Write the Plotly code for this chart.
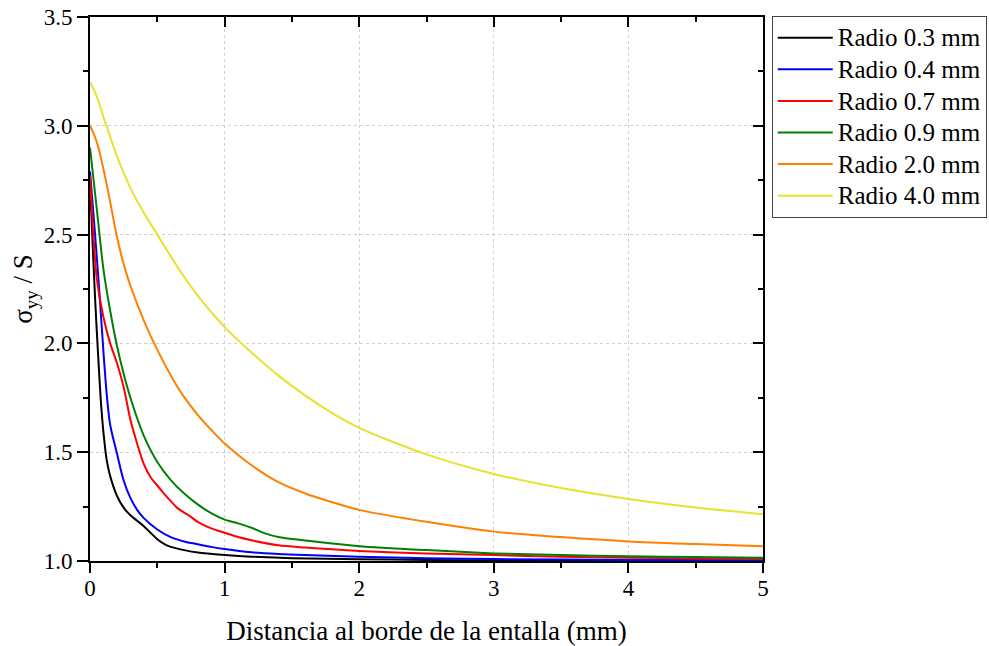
import plotly.graph_objects as go

FONT = "Liberation Serif"

labels = ["Radio 0.3 mm", "Radio 0.4 mm", "Radio 0.7 mm", "Radio 0.9 mm", "Radio 2.0 mm", "Radio 4.0 mm"]
colors = ["#000000", "#0000FF", "#FF0000", "#008000", "#FF8000", "#E6E22E"]

x_r03 = [0, 0.02, 0.04, 0.06, 0.08, 0.1, 0.125, 0.15, 0.2, 0.25, 0.3, 0.35, 0.4, 0.45, 0.5, 0.55, 0.6, 0.7, 0.8, 1.0, 1.2, 1.5, 2.0, 2.5, 3.0, 4.0, 5.0]
y_r03 = [2.75, 2.45, 2.18, 1.95, 1.74, 1.59, 1.46, 1.39, 1.30, 1.245, 1.21, 1.185, 1.16, 1.13, 1.10, 1.079, 1.065, 1.05, 1.039, 1.028, 1.02, 1.013, 1.008, 1.005, 1.003, 1.002, 1.001]

x_r04 = [0, 0.025, 0.05, 0.075, 0.1, 0.125, 0.15, 0.2, 0.25, 0.3, 0.35, 0.4, 0.5, 0.6, 0.7, 0.8, 0.9, 1.0, 1.2, 1.4, 1.6, 2.0, 2.5, 3.0, 4.0, 5.0]
y_r04 = [2.79, 2.60, 2.40, 2.19, 1.96, 1.76, 1.625, 1.495, 1.37, 1.29, 1.235, 1.197, 1.145, 1.11, 1.09, 1.077, 1.065, 1.055, 1.04, 1.032, 1.027, 1.02, 1.013, 1.009, 1.005, 1.003]

x_r07 = [0, 0.025, 0.05, 0.1, 0.15, 0.2, 0.25, 0.3, 0.35, 0.4, 0.45, 0.5, 0.55, 0.6, 0.65, 0.7, 0.75, 0.8, 0.9, 1.0, 1.1, 1.2, 1.4, 1.6, 1.8, 2.0, 2.5, 3.0, 3.5, 4.0, 4.5, 5.0]
y_r07 = [2.77, 2.50, 2.30, 2.12, 2.00, 1.91, 1.80, 1.65, 1.54, 1.445, 1.385, 1.347, 1.31, 1.275, 1.243, 1.222, 1.203, 1.18, 1.15, 1.13, 1.11, 1.095, 1.072, 1.062, 1.054, 1.046, 1.035, 1.027, 1.02, 1.015, 1.012, 1.01]

x_r09 = [0, 0.025, 0.05, 0.1, 0.15, 0.2, 0.25, 0.3, 0.4, 0.5, 0.6, 0.7, 0.8, 0.9, 1.0, 1.1, 1.2, 1.3, 1.4, 1.6, 1.8, 2.0, 2.5, 3.0, 3.5, 4.0, 4.5, 5.0]
y_r09 = [2.90, 2.76, 2.62, 2.34, 2.15, 1.99, 1.86, 1.75, 1.575, 1.455, 1.372, 1.31, 1.26, 1.22, 1.19, 1.173, 1.153, 1.127, 1.11, 1.094, 1.08, 1.068, 1.05, 1.035, 1.027, 1.022, 1.018, 1.015]

x_r20 = [0, 0.03, 0.06, 0.1, 0.15, 0.2, 0.25, 0.3, 0.4, 0.5, 0.6, 0.7, 0.8, 0.9, 1.0, 1.2, 1.4, 1.6, 1.8, 2.0, 2.5, 3.0, 3.5, 4.0, 4.5, 5.0]
y_r20 = [3.00, 2.96, 2.905, 2.80, 2.65, 2.49, 2.365, 2.265, 2.105, 1.97, 1.853, 1.753, 1.672, 1.603, 1.54, 1.44, 1.362, 1.31, 1.27, 1.235, 1.18, 1.135, 1.11, 1.09, 1.078, 1.068]

x_r40 = [0, 0.05, 0.1, 0.15, 0.2, 0.3, 0.4, 0.5, 0.6, 0.7, 0.8, 0.9, 1.0, 1.2, 1.4, 1.6, 1.8, 2.0, 2.5, 3.0, 3.5, 4.0, 4.5, 5.0]
y_r40 = [3.20, 3.135, 3.04, 2.95, 2.86, 2.715, 2.60, 2.50, 2.40, 2.305, 2.22, 2.145, 2.075, 1.958, 1.852, 1.76, 1.68, 1.612, 1.49, 1.40, 1.335, 1.285, 1.246, 1.215]

series_x = [x_r03, x_r04, x_r07, x_r09, x_r20, x_r40]
series_y = [y_r03, y_r04, y_r07, y_r09, y_r20, y_r40]

fig = go.Figure()
for i, (xs, ys) in enumerate(zip(series_x, series_y)):
    fig.add_trace(go.Scatter(
        x=xs, y=ys, mode="lines",
        name='<span style="font-size:25px">%s</span>' % labels[i],
        line=dict(color=colors[i], width=2, shape="spline", smoothing=0.8),
    ))

# dummy trace for the mirrored top/right axes with inward ticks
fig.add_trace(go.Scatter(x=[None], y=[None], xaxis="x2", yaxis="y2",
                         showlegend=False, hoverinfo="skip"))

tickfont = dict(family=FONT, size=23, color="black")

fig.update_layout(
    width=989, height=646,
    margin=dict(l=90, r=226, t=17, b=85, autoexpand=False),
    paper_bgcolor="white", plot_bgcolor="white",
    font=dict(family=FONT, color="black"),
    xaxis=dict(
        range=[0, 5], dtick=1, tick0=0, showline=True, linewidth=2, linecolor="black",
        ticks="outside", ticklen=10, tickwidth=2, tickcolor="black",
        tickfont=tickfont, zeroline=False, ticklabelstandoff=-5,
        showgrid=True, gridcolor="#cfcfcf", griddash="dot", gridwidth=1,
        minor=dict(dtick=0.5, ticks="outside", ticklen=5, tickwidth=2, tickcolor="black", showgrid=False),
        title=dict(text="Distancia al borde de la entalla (mm)",
                   font=dict(family=FONT, size=27, color="black"), standoff=22),
    ),
    yaxis=dict(
        range=[1.0, 3.5], dtick=0.5, tick0=1.0, tickformat=".1f",
        showline=True, linewidth=2, linecolor="black",
        ticks="outside", ticklen=11, tickwidth=2, tickcolor="black",
        tickfont=tickfont, zeroline=False, ticklabelstandoff=0,
        showgrid=True, gridcolor="#cfcfcf", griddash="dot", gridwidth=1,
        minor=dict(dtick=0.25, ticks="outside", ticklen=5, tickwidth=2, tickcolor="black", showgrid=False),
        title=dict(text="σ<sub>yy</sub> / S",
                   font=dict(family=FONT, size=27, color="black"), standoff=3),
    ),
    xaxis2=dict(
        overlaying="x", side="top", range=[0, 5], dtick=1, tick0=0,
        showline=True, linewidth=2, linecolor="black",
        ticks="inside", ticklen=10, tickwidth=2, tickcolor="black",
        showticklabels=False, showgrid=False, zeroline=False,
        minor=dict(dtick=0.5, ticks="inside", ticklen=5, tickwidth=2, tickcolor="black", showgrid=False),
    ),
    yaxis2=dict(
        overlaying="y", side="right", range=[1.0, 3.5], dtick=0.5, tick0=1.0,
        showline=True, linewidth=2, linecolor="black",
        ticks="inside", ticklen=10, tickwidth=2, tickcolor="black",
        showticklabels=False, showgrid=False, zeroline=False,
        minor=dict(dtick=0.25, ticks="inside", ticklen=5, tickwidth=2, tickcolor="black", showgrid=False),
    ),
    legend=dict(
        x=1.013, y=1.002, xanchor="left", yanchor="top",
        font=dict(family=FONT, size=22, color="black"),
        bordercolor="#444444", borderwidth=1, bgcolor="white",
        itemwidth=55,
    ),
    showlegend=True,
)

fig.write_html("out.html", config={"displayModeBar": False},
               post_script="document.body.style.margin='0';")
